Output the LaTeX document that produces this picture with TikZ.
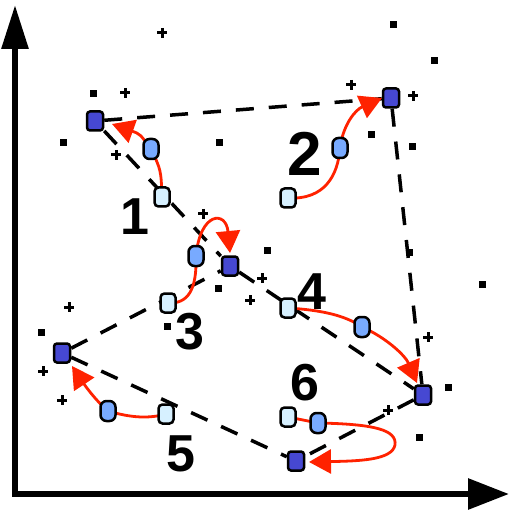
\documentclass[tikz,border=0pt]{standalone}
\usepackage{fontspec}
\setmainfont{Liberation Sans}
\usetikzlibrary{arrows.meta}
\pgfdeclarelayer{bg}
\pgfsetlayers{bg,main}
\definecolor{darkb}{RGB}{70,72,210}
\definecolor{medb}{RGB}{120,170,255}
\definecolor{lightb}{RGB}{214,240,255}
\definecolor{redc}{RGB}{255,34,0}
\begin{document}
\begin{tikzpicture}[x=1pt,y=-1pt,
  darknode/.style={draw=black, line width=2.5pt, fill=darkb, rounded corners=3pt, minimum width=16pt, minimum height=19pt, inner sep=0pt},
  mednode/.style={draw=black, line width=2.5pt, fill=medb, rounded corners=6pt, minimum width=15pt, minimum height=20pt, inner sep=0pt},
  lightnode/.style={draw=black, line width=2.5pt, fill=lightb, rounded corners=4pt, minimum width=15pt, minimum height=19pt, inner sep=0pt},
  traj/.style={draw=black, line width=3.5pt, dash pattern=on 18pt off 15pt},
  redpath/.style={draw=redc, line width=2.8pt, -{Triangle[length=22pt,width=24pt]}},
  axisline/.style={line width=6pt, {Triangle[length=44pt,width=26pt]}-{Triangle[length=41pt,width=30pt]}},
  lbl/.style={font=\bfseries\fontsize{52}{52}\selectfont, inner sep=0pt},
  plusmark/.style={draw=black, line width=3pt},
  dotmark/.style={fill=black}
]
\useasboundingbox (0,0) rectangle (510,510);

% axes
\coordinate (Ytop) at (15,5);
\coordinate (O) at (15,494);
\coordinate (Xend) at (509,494);
\draw[axisline] (Ytop) -- (O) -- (Xend);

% dark nodes
\node[darknode] (A) at (95,121) {};
\node[darknode] (B) at (391,98) {};
\node[darknode] (C) at (230,266) {};
\node[darknode] (D) at (62,353) {};
\node[darknode] (E) at (423,395) {};
\node[darknode] (F) at (296,461) {};

% medium nodes
\node[mednode] (M1) at (151,149) {};
\node[mednode] (M2) at (340,148) {};
\node[mednode] (M3) at (196,256) {};
\node[mednode] (M4) at (362,327) {};
\node[mednode] (M5) at (108,411) {};
\node[mednode] (M6) at (318,423) {};

% light nodes
\node[lightnode] (L1) at (162,197) {};
\node[lightnode] (L2) at (288,198) {};
\node[lightnode] (L3) at (168,303) {};
\node[lightnode] (L4) at (288,308) {};
\node[lightnode] (L5) at (166,414) {};
\node[lightnode] (L6) at (288,417) {};

% arrow tips
\coordinate (T1) at (112,124);
\coordinate (T2) at (382,98);
\coordinate (T3) at (230,253);
\coordinate (T4) at (417,383);
\coordinate (T5) at (72,366);
\coordinate (T6) at (309,462);

% labels
\node[lbl] (n1) at (135,217) {1};
\node[lbl, font=\bfseries\fontsize{62}{62}\selectfont] (n2) at (305,154) {2};
\node[lbl] (n3) at (190,332) {3};
\node[lbl] (n4) at (312,292) {4};
\node[lbl] (n5) at (181,454) {5};
\node[lbl] (n6) at (305,383) {6};

\begin{pgfonlayer}{bg}
% dashed trajectory
\draw[traj] (A) -- (B);
\draw[traj] (B) -- (E);
\draw[traj] (A) -- (C);
\draw[traj] (C) -- (E);
\draw[traj] (D) -- (C);
\draw[traj] (D) -- (F);
\draw[traj] (E) -- (F);

% red paths
\draw[redpath] (L1.center) .. controls (161,170) .. (M1.center) .. controls (140,134) .. (T1);
\draw[redpath] (L2.center) .. controls (325,200) and (338,175) .. (M2.center) .. controls (343,125) and (355,110) .. (T2);
\draw[redpath] (L3.center) .. controls (188,304) and (197,290) .. (M3.center) .. controls (200,212) and (226,210) .. (T3);
\draw[redpath] (L4.center) .. controls (320,310) and (345,315) .. (M4.center) .. controls (385,337) and (405,355) .. (T4);
\draw[redpath] (L5.center) .. controls (145,420) and (125,416) .. (M5.center) .. controls (95,400) and (84,384) .. (T5);
\draw[redpath] (L6.center) -- (M6.center) .. controls (375,424) and (397,430) .. (395,445) .. controls (392,460) and (360,461) .. (T6);
\end{pgfonlayer}

% plus marks
\foreach \px/\py in {162/33, 125/93, 116/155, 203/214, 351/85, 413/96, 69/307, 43/371, 62/400, 262/278, 250/300, 428/337, 388/410}{
  \draw[plusmark] (\px-5,\py) -- (\px+5,\py);
  \draw[plusmark] (\px,\py-5) -- (\px,\py+5);
}
% dots
\foreach \px/\py in {93/94, 63/143, 219/143, 393/25, 434/61, 371/135, 412/147, 267/250, 409/252, 41/332, 167/326, 218/288, 482/284, 448/387, 419/437}{
  \fill[dotmark] (\px-3.5,\py-3.5) rectangle (\px+3.5,\py+3.5);
}
\end{tikzpicture}
\end{document}
